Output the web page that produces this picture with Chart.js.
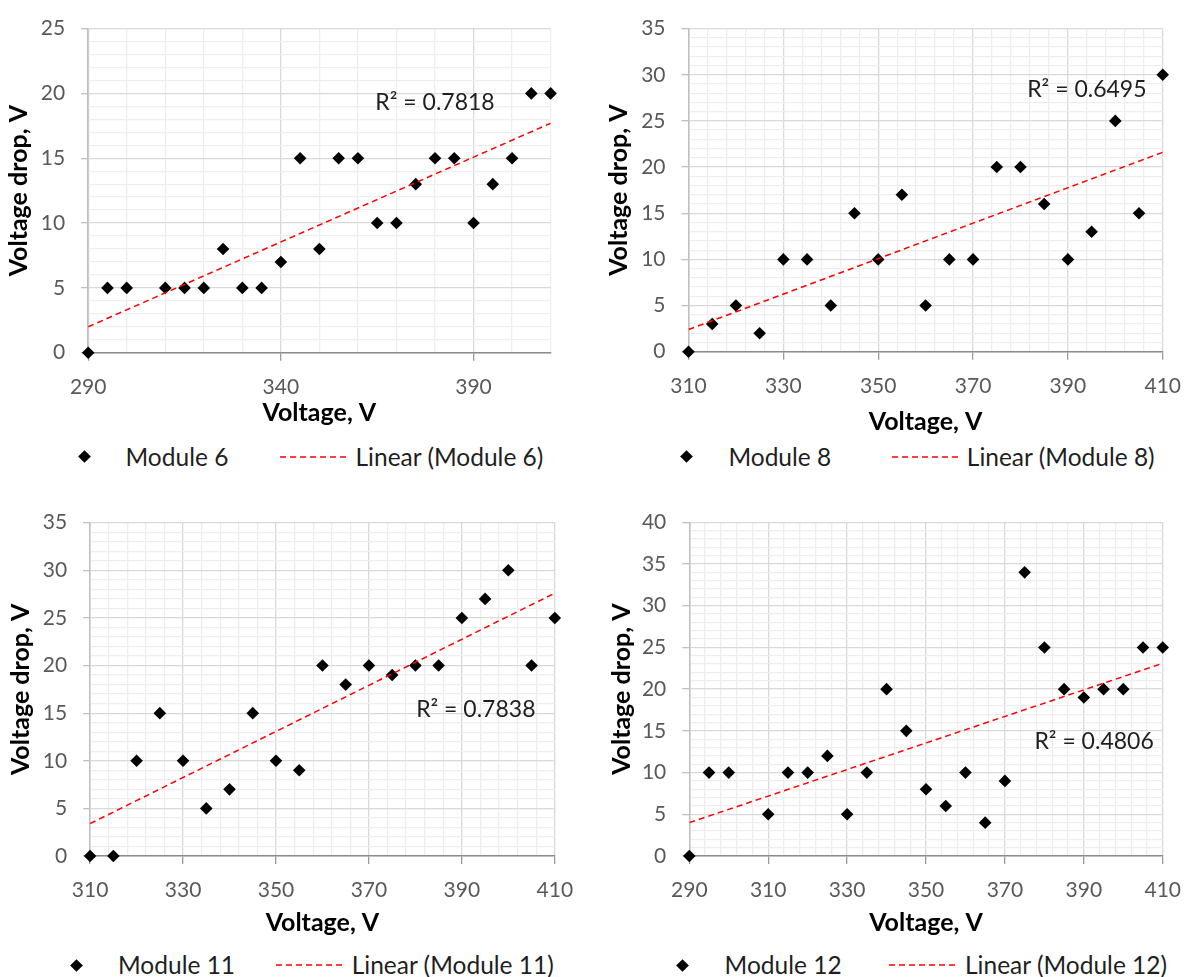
<!DOCTYPE html>
<html>
<head>
<meta charset="utf-8">
<title>Voltage drop vs voltage</title>
<script src="https://cdn.jsdelivr.net/npm/chart.js@4.4.1/dist/chart.umd.min.js"></script>
<style>
  body { margin: 0; background: #fff; font-family: Lato, sans-serif; }
  #page { position: relative; width: 1195px; height: 977px; overflow: hidden; }
  canvas { position: absolute; }
  .leg { position: absolute; font-size: 24.5px; line-height: 30px; color: #1f1f1f; white-space: nowrap; }
  .diamond { position: absolute; width: 9px; height: 9px; background: #000; transform: rotate(45deg); }
  .dash { position: absolute; }
</style>
</head>
<body>
<div id="page"></div>
<script>
const volt6 = [290, 295, 300, 310, 315, 320, 325, 330, 335, 340, 345, 350, 355, 360, 365, 370, 375, 380, 385, 390, 395, 400, 405, 410];
const drop6 = [0, 5, 5, 5, 5, 5, 8, 5, 5, 7, 15, 8, 15, 15, 10, 10, 13, 15, 15, 10, 13, 15, 20, 20];
const trend6 = [2.0, 17.7]; // trendline value at x min / x max

const volt8 = [310, 315, 320, 325, 330, 335, 340, 345, 350, 355, 360, 365, 370, 375, 380, 385, 390, 395, 400, 405, 410];
const drop8 = [0, 3, 5, 2, 10, 10, 5, 15, 10, 17, 5, 10, 10, 20, 20, 16, 10, 13, 25, 15, 30];
const trend8 = [2.4, 21.6];

const volt11 = [310, 315, 320, 325, 330, 335, 340, 345, 350, 355, 360, 365, 370, 375, 380, 385, 390, 395, 400, 405, 410];
const drop11 = [0, 0, 10, 15, 10, 5, 7, 15, 10, 9, 20, 18, 20, 19, 20, 20, 25, 27, 30, 20, 25];
const trend11 = [3.4, 27.6];

const volt12 = [290, 295, 300, 310, 315, 320, 325, 330, 335, 340, 345, 350, 355, 360, 365, 370, 375, 380, 385, 390, 395, 400, 405, 410];
const drop12 = [0, 10, 10, 5, 10, 10, 12, 5, 10, 20, 15, 8, 6, 10, 4, 9, 34, 25, 20, 19, 20, 20, 25, 25];
const trend12 = [4.0, 23.1];

const page = document.getElementById("page");
Chart.defaults.font.family = "Lato";

// text of the R² label, drawn at a point given in data units
const r2Label = {
    id: "r2Label",
    afterDatasetsDraw(chart, args, opts) {
        const { ctx, scales: { x, y } } = chart;
        ctx.save();
        ctx.font = "23px Lato";
        ctx.fillStyle = "#1f1f1f";
        ctx.textAlign = "center";
        ctx.textBaseline = "middle";
        ctx.fillText(opts.text, x.getPixelForValue(opts.at[0]), y.getPixelForValue(opts.at[1]));
        ctx.restore();
    }
};

const panels = [
    { name: "Module 6", volts: volt6, drops: drop6, trend: trend6, r2: "R\u00b2 = 0.7818", r2At: [380, 19.3],
      xMin: 290, xMax: 410, xMajor: 50, xMinor: 10, yMax: 25,
      box: [0, 0, 598, 440], padTop: 25, padRight: 47.4, yWidth: 88.2, xHeight: 87.3, xTitlePad: 12, yTitlePad: 4,
      leg: { y: 456.7, marker: 84, name: 125.5, dash: [279.5, 348], lin: 355.5 } },
    { name: "Module 8", volts: volt8, drops: drop8, trend: trend8, r2: "R\u00b2 = 0.6495", r2At: [394, 28.4],
      xMin: 310, xMax: 410, xMajor: 20, xMinor: 4, yMax: 35,
      box: [598, 0, 597, 440], padTop: 23, padRight: 22.5, yWidth: 90.5, xHeight: 88.3, xTitlePad: 3, yTitlePad: 6,
      leg: { y: 456.7, marker: 88.6, name: 130.4, dash: [293.5, 361], lin: 368.8 } },
    { name: "Module 11", volts: volt11, drops: drop11, trend: trend11, r2: "R\u00b2 = 0.7838", r2At: [393, 15.4],
      xMin: 310, xMax: 410, xMajor: 20, xMinor: 4, yMax: 35,
      box: [0, 480, 598, 470], padTop: 42.7, padRight: 43.2, yWidth: 90.1, xHeight: 94, xTitlePad: 12, yTitlePad: 6,
      leg: { y: 485, marker: 76.7, name: 118, dash: [276, 344], lin: 351.7 } },
    { name: "Module 12", volts: volt12, drops: drop12, trend: trend12, r2: "R\u00b2 = 0.4806", r2At: [392.6, 13.7],
      xMin: 290, xMax: 410, xMajor: 20, xMinor: 4, yMax: 40,
      box: [598, 480, 597, 470], padTop: 42.3, padRight: 21, yWidth: 91.3, xHeight: 94, xTitlePad: 12, yTitlePad: 8.6,
      leg: { y: 485, marker: 84.4, name: 126.6, dash: [291.3, 359.3], lin: 367 } }
];

const addLegend = p => {
    const [left, top] = p.box;
    const cy = top + p.leg.y;
    const d = document.createElement("div");
    d.className = "diamond";
    d.style.left = (left + p.leg.marker - 4.5) + "px";
    d.style.top = (cy - 4.5) + "px";
    page.appendChild(d);

    const name = document.createElement("span");
    name.className = "leg";
    name.textContent = p.name;
    name.style.left = (left + p.leg.name) + "px";
    name.style.top = (cy - 15) + "px";
    page.appendChild(name);

    const w = p.leg.dash[1] - p.leg.dash[0];
    const svg = `<svg class="dash" width="${w}" height="4" style="left:${left + p.leg.dash[0]}px;top:${cy - 2}px">
        <line x1="0" y1="2" x2="${w}" y2="2" stroke="#ff0000" stroke-width="1.5" stroke-dasharray="6 4"/></svg>`;
    page.insertAdjacentHTML("beforeend", svg);

    const lin = document.createElement("span");
    lin.className = "leg";
    lin.textContent = `Linear (${p.name})`;
    lin.style.left = (left + p.leg.lin) + "px";
    lin.style.top = (cy - 15) + "px";
    page.appendChild(lin);
};

const makePanel = p => {
    const [left, top, width, height] = p.box;
    const canvas = document.createElement("canvas");
    canvas.width = width;
    canvas.height = height;
    canvas.style.left = left + "px";
    canvas.style.top = top + "px";
    page.appendChild(canvas);

    const majorX = v => Math.abs((v - p.xMin) % p.xMajor) < 1e-6;
    const majorY = v => Math.abs(v % 5) < 1e-6;

    new Chart(canvas, {
        type: "scatter",
        data: {
            datasets: [
                {
                    label: `Linear (${p.name})`,
                    data: [{ x: p.xMin, y: p.trend[0] }, { x: p.xMax, y: p.trend[1] }],
                    showLine: true,
                    borderColor: "#ff0000",
                    borderWidth: 1.5,
                    borderDash: [6, 4],
                    pointRadius: 0
                },
                {
                    label: p.name,
                    data: p.volts.map((v, i) => ({ x: v, y: p.drops[i] })),
                    pointStyle: "rectRot",
                    pointRadius: 6.3,
                    backgroundColor: "#000",
                    borderWidth: 0,
                    clip: false
                }
            ]
        },
        options: {
            responsive: false,
            animation: false,
            events: [],
            layout: { padding: { left: 0, top: p.padTop, right: p.padRight, bottom: 0 } },
            plugins: {
                legend: { display: false },
                tooltip: { enabled: false },
                r2Label: { text: p.r2, at: p.r2At }
            },
            scales: {
                x: {
                    type: "linear",
                    min: p.xMin,
                    max: p.xMax,
                    afterFit: s => { s.height = p.xHeight; },
                    ticks: {
                        stepSize: p.xMinor,
                        autoSkip: false,
                        maxRotation: 0,
                        padding: 14,
                        color: "#595959",
                        font: { size: 21 },
                        callback: v => majorX(v) ? v : ""
                    },
                    grid: {
                        color: c => majorX(c.tick.value) ? "#d9d9d9" : "#eeeeee",
                        lineWidth: 1.3,
                        tickLength: 8,
                        tickColor: c => majorX(c.tick.value) ? "#9a9a9a" : "rgba(0,0,0,0)"
                    },
                    border: { color: "#8c8c8c", width: 1.5 },
                    title: {
                        display: true,
                        text: "Voltage, V",
                        color: "#000",
                        font: { size: 25, weight: "bold" },
                        padding: { top: 0, bottom: p.xTitlePad }
                    }
                },
                y: {
                    min: 0,
                    max: p.yMax,
                    afterFit: s => { s.width = p.yWidth; },
                    ticks: {
                        stepSize: 1,
                        autoSkip: false,
                        padding: 16,
                        color: "#595959",
                        font: { size: 21 },
                        callback: v => majorY(v) ? v : ""
                    },
                    grid: {
                        color: c => majorY(c.tick.value) ? "#d9d9d9" : "#eeeeee",
                        lineWidth: 1.3,
                        tickLength: 7,
                        tickColor: c => majorY(c.tick.value) ? "#bfbfbf" : "rgba(0,0,0,0)"
                    },
                    border: { color: "#bfbfbf", width: 1.5 },
                    title: {
                        display: true,
                        text: "Voltage drop, V",
                        color: "#000",
                        font: { size: 25, weight: "bold" },
                        padding: { top: p.yTitlePad, bottom: 0 }
                    }
                }
            }
        },
        plugins: [r2Label]
    });

    addLegend(p);
};

panels.forEach(makePanel);
</script>
</body>
</html>
